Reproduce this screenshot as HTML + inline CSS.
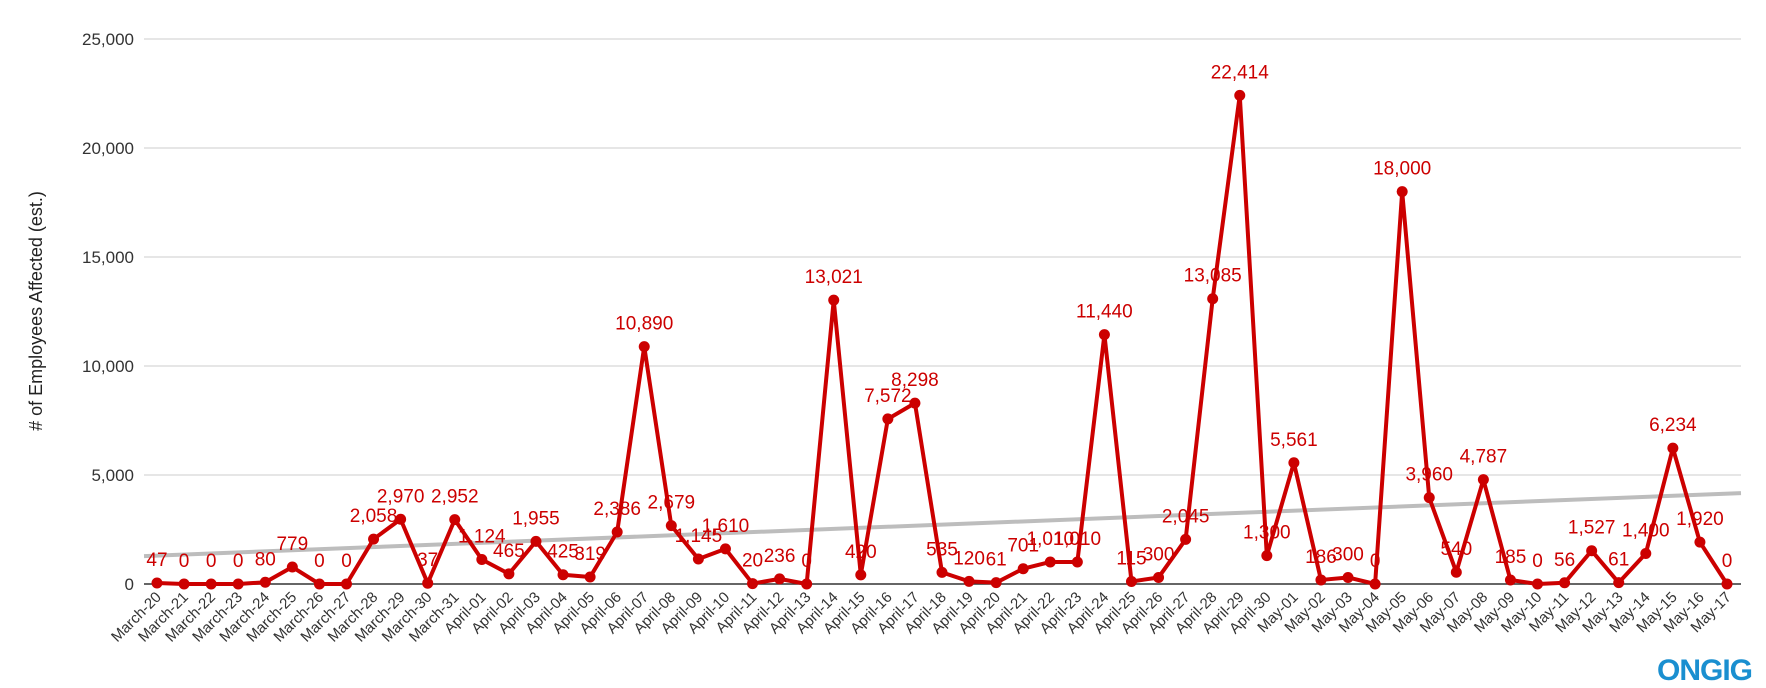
<!DOCTYPE html>
<html><head><meta charset="utf-8"><style>
body{margin:0;background:#fff;}
svg{display:block;font-family:"Liberation Sans",Arial,sans-serif;}
</style></head><body>
<svg id="chart" width="1766" height="688" viewBox="0 0 1766 688" xmlns="http://www.w3.org/2000/svg">
<g id="grid"></g>
<g id="ylabels"></g>
<text transform="translate(42,311) rotate(-90)" text-anchor="middle" font-size="18" fill="#222"># of Employees Affected (est.)</text>
<line id="trend" stroke="#bdbdbd" stroke-width="4"/>
<g id="series"></g>
<g id="xlabels"></g>
<text x="1752" y="680" text-anchor="end" font-size="30" font-weight="bold" fill="#1a8fd0" letter-spacing="-1">ONGIG</text>
</svg>
<script>
const categories=["March-20","March-21","March-22","March-23","March-24","March-25","March-26","March-27","March-28","March-29","March-30","March-31","April-01","April-02","April-03","April-04","April-05","April-06","April-07","April-08","April-09","April-10","April-11","April-12","April-13","April-14","April-15","April-16","April-17","April-18","April-19","April-20","April-21","April-22","April-23","April-24","April-25","April-26","April-27","April-28","April-29","April-30","May-01","May-02","May-03","May-04","May-05","May-06","May-07","May-08","May-09","May-10","May-11","May-12","May-13","May-14","May-15","May-16","May-17"];
const values=[47,0,0,0,80,779,0,0,2058,2970,37,2952,1124,465,1955,425,319,2386,10890,2679,1145,1610,20,236,0,13021,420,7572,8298,535,120,61,701,1010,1010,11440,115,300,2045,13085,22414,1300,5561,186,300,0,18000,3960,540,4787,185,0,56,1527,61,1400,6234,1920,0];
const yTicks=[0,5000,10000,15000,20000,25000];
const trendValues=[1280,4170];
const NS="http://www.w3.org/2000/svg";
const x0=144,x1=1741,y0=584,yTop=39,xFirst=157,xLast=1727;
const X=i=>xFirst+(xLast-xFirst)*i/(categories.length-1);
const Y=v=>y0-(y0-yTop)*v/25000;
const fmt=v=>v.toLocaleString('en-US');
function mk(tag,attrs,parent){const e=document.createElementNS(NS,tag);for(const k in attrs)e.setAttribute(k,attrs[k]);parent.appendChild(e);return e;}
const grid=document.getElementById('grid'),yl=document.getElementById('ylabels');
yTicks.forEach(t=>{
  const l=mk('line',{x1:x0,x2:x1,y1:Y(t),y2:Y(t),stroke:t===0?'#333':'#cccccc','stroke-width':t===0?1.5:1},grid);
  
  
  const tx=mk('text',{x:x0-10,y:Y(t)+6,'text-anchor':'end','font-size':17,fill:'#333'},yl);
  tx.textContent=fmt(t);
  
  
});
const tr=document.getElementById('trend');
tr.setAttribute('x1',x0);tr.setAttribute('x2',x1);
tr.setAttribute('y1',Y(trendValues[0]));tr.setAttribute('y2',Y(trendValues[1]));
const s=document.getElementById('series');
const pl=mk('polyline',{points:values.map((v,i)=>X(i)+','+Y(v)).join(' '),fill:'none',stroke:'#cc0000','stroke-width':4,'stroke-linejoin':'round'},s);


const xl=document.getElementById('xlabels');
values.forEach((v,i)=>{
  const c=mk('circle',{cx:X(i),cy:Y(v),r:5.5,fill:'#cc0000'},s);
  
  
  const t=mk('text',{x:X(i),y:Y(v)-17,'text-anchor':'middle','font-size':19,fill:'#cc0000'},s);
  t.textContent=fmt(v);
  
  
  const c2=mk('text',{transform:`translate(${X(i)+5},${y0+14}) rotate(-45)`,'text-anchor':'end','font-size':15,fill:'#333'},xl);
  c2.textContent=categories[i];
  
  
});
</script>
</body></html>
